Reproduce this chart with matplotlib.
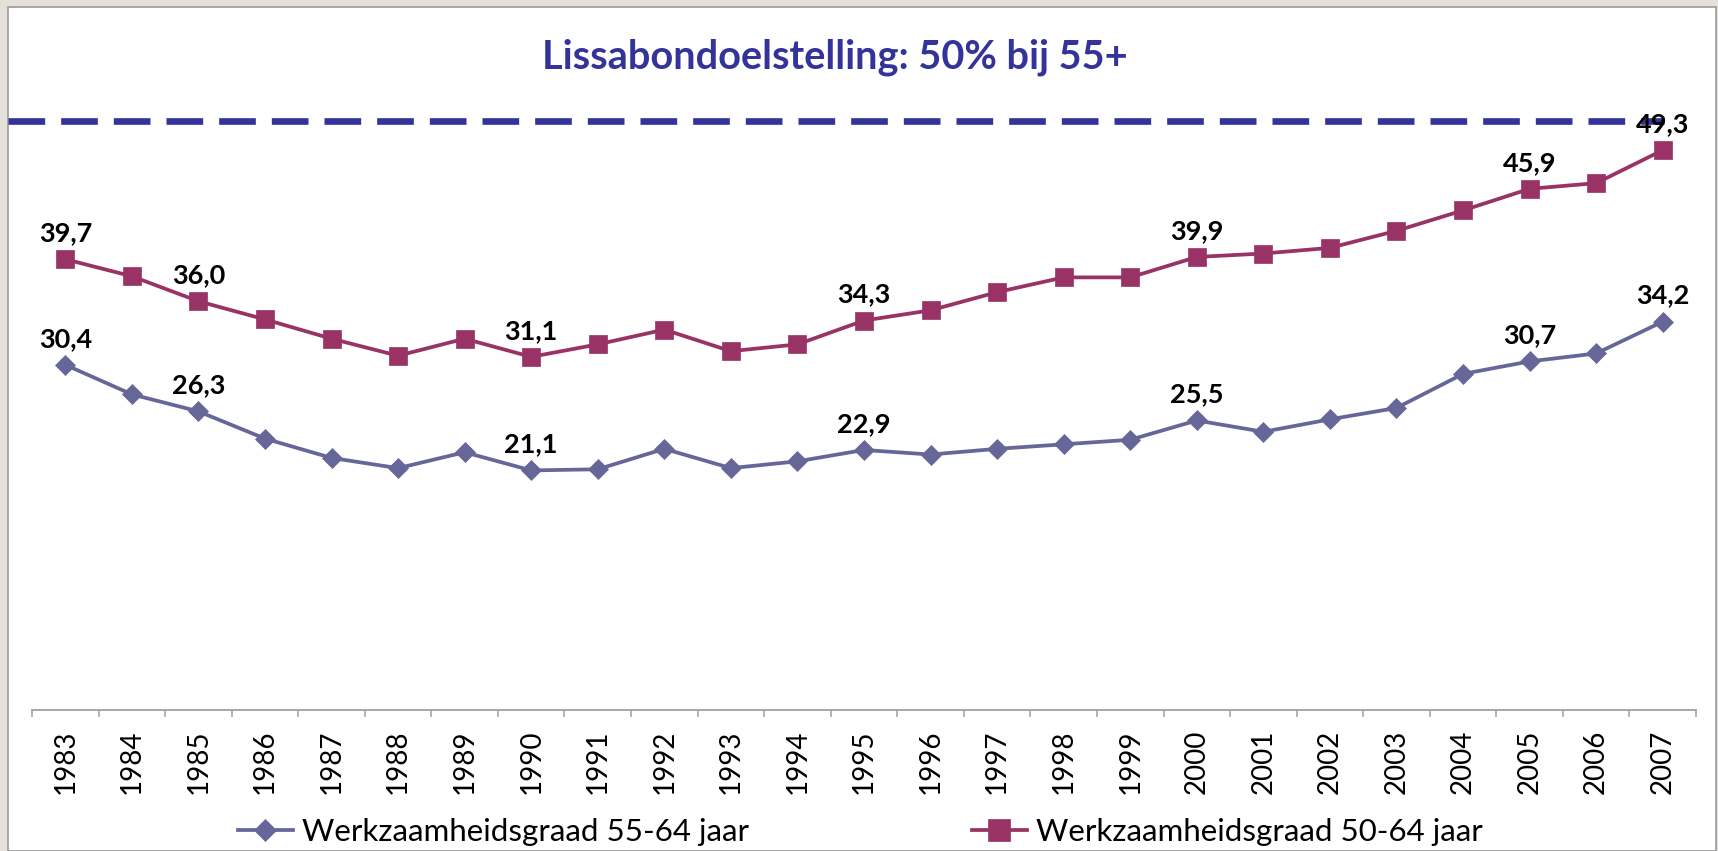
import matplotlib as mpl
mpl.use('Agg')
import matplotlib.pyplot as plt
from matplotlib.patches import Rectangle
from matplotlib.ticker import FixedLocator

# werkzaamheidsgraad per jaar (%)
jaren = [str(j) for j in range(1983, 2008)]
graad_55_64 = [30.4, 27.8, 26.3, 23.9, 22.2, 21.3, 22.7, 21.1, 21.2, 23.0,
               21.3, 21.9, 22.9, 22.5, 23.0, 23.4, 23.8, 25.5, 24.5, 25.6,
               26.6, 29.6, 30.7, 31.4, 34.2]
graad_50_64 = [39.7, 38.2, 36.0, 34.4, 32.7, 31.2, 32.7, 31.1, 32.2, 33.5,
               31.6, 32.2, 34.3, 35.2, 36.8, 38.1, 38.1, 39.9, 40.2, 40.7,
               42.2, 44.0, 45.9, 46.4, 49.3]
gelabelde_jaren = ['1983', '1985', '1990', '1995', '2000', '2005', '2007']
namen = ['Werkzaamheidsgraad 55-64 jaar', 'Werkzaamheidsgraad 50-64 jaar']
titel = 'Lissabondoelstelling: 50% bij 55+'
doel_lijn = 51.9  # the drawn target line sits slightly above 50 in the original

kleur_55 = '#666699'
kleur_50 = '#993366'
kleur_doel = '#333399'

plt.rcParams['font.family'] = ['Lato', 'DejaVu Sans']

W, H = 1718, 851
fig = plt.figure(figsize=(W / 100, H / 100), dpi=100)
fig.patch.set_facecolor('#E4E0DA')
fig.patches.append(Rectangle((8 / W, 0), (1716 - 8) / W, (H - 7) / H,
                             transform=fig.transFigure, facecolor='white',
                             edgecolor='#9A9A9A', linewidth=1.2, zorder=-5))

ax = fig.add_axes([32 / W, (H - 710) / H, 1664 / W, 704 / H])
ax.patch.set_alpha(0)

x = list(range(len(jaren)))
ax.plot(x, graad_55_64, color=kleur_55, lw=2.7, marker='D', ms=10,
        mec=kleur_55, mew=0.5, label=namen[0], zorder=3)
ax.plot(x, graad_50_64, color=kleur_50, lw=2.7, marker='s', ms=13.2,
        mec=kleur_50, mew=0.5, label=namen[1], zorder=3)

for serie in [graad_55_64, graad_50_64]:
    for j in gelabelde_jaren:
        i = jaren.index(j)
        ax.annotate(('%.1f' % serie[i]).replace('.', ','), (i, serie[i]),
                    xytext=(0, 13), textcoords='offset points',
                    ha='center', va='baseline', fontsize=19.5, fontweight='bold',
                    color='black', zorder=5)

ax.axhline(doel_lijn, xmin=-0.0145, xmax=0.981, color=kleur_doel, lw=4.8,
           ls=(0, (5.5, 2.4)), clip_on=False, zorder=2)

ax.set_xlim(-0.5, len(jaren) - 0.5)
ax.set_ylim(0, 62)
ax.set_xticks(x)
ax.set_xticklabels(jaren, rotation=90, fontsize=20)
ax.xaxis.set_minor_locator(FixedLocator([i - 0.5 for i in range(len(jaren) + 1)]))
ax.tick_params(axis='x', which='major', length=0, pad=14)
ax.tick_params(axis='x', which='minor', length=5, width=1.1, color='#A0A0A0')
ax.set_yticks([])
for s in ['top', 'right', 'left']:
    ax.spines[s].set_visible(False)
ax.spines['bottom'].set_color('#A0A0A0')
ax.spines['bottom'].set_linewidth(1.3)

fig.text(835 / W, 1 - 57 / H, titel, ha='center', va='center',
         fontsize=28.6, fontweight='bold', color=kleur_doel)

lijnen = ax.get_lines()
for lijn, naam, x0 in [(lijnen[0], namen[0], 238), (lijnen[1], namen[1], 972)]:
    fig.legend([lijn], [naam], loc='center left',
               bbox_to_anchor=(x0 / W, 1 - 832 / H), frameon=False,
               fontsize=22.5, handlelength=1.75, handletextpad=0.3,
               borderpad=0, borderaxespad=0, markerscale=1.15)

plt.savefig('out.png', dpi=100, facecolor=fig.get_facecolor())
